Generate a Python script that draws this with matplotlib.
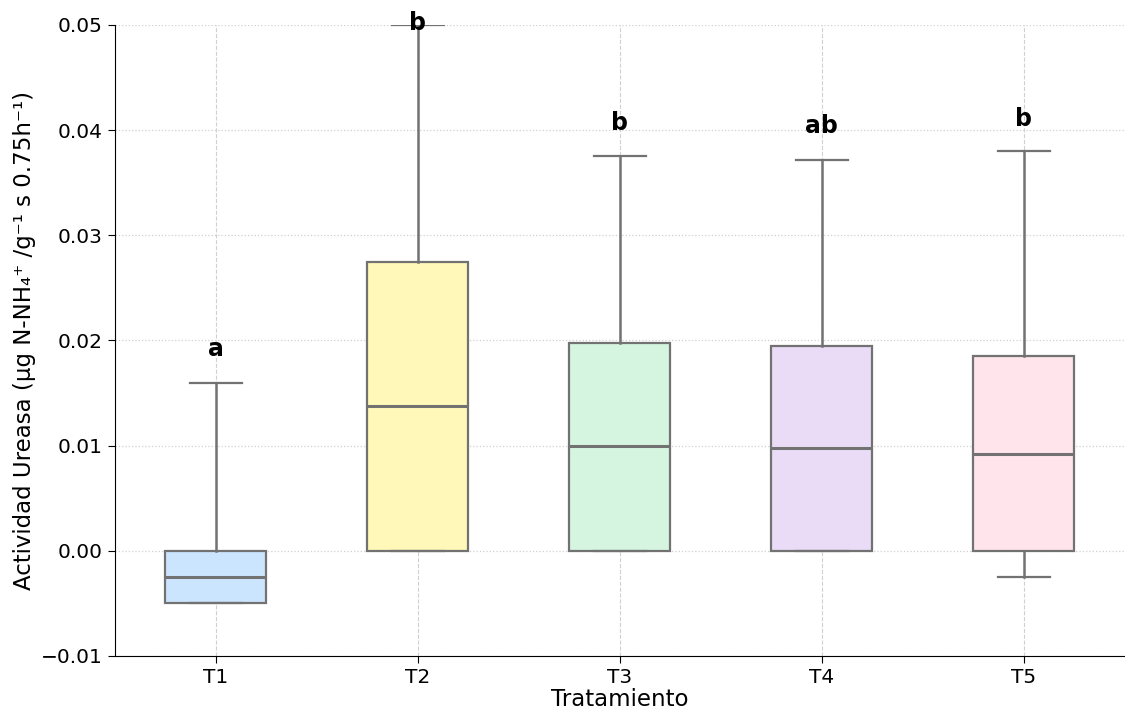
import numpy as np
import matplotlib
matplotlib.use('Agg')
import matplotlib.pyplot as plt

tratamientos = ['T1', 'T2', 'T3', 'T4', 'T5']
whislo = [-0.005, 0.0, 0.0, 0.0, -0.0025]
q1 = [-0.005, 0.0, 0.0, 0.0, 0.0]
medianas = [-0.0025, 0.0138, 0.0100, 0.0098, 0.0092]
q3 = [0.0, 0.0275, 0.0198, 0.0195, 0.0185]
whishi = [0.016, 0.050, 0.0375, 0.0372, 0.038]
letras = ['a', 'b', 'b', 'ab', 'b']
letras_y = [0.0192, 0.0502, 0.0407, 0.0404, 0.0411]
colores = ['#cce5ff', '#fff8b8', '#d6f5e0', '#eadcf7', '#ffe4ec']


def main():
    fig, ax = plt.subplots(figsize=(11.25, 7.13), dpi=100)
    fig.subplots_adjust(left=0.102, right=1.0, top=0.965, bottom=0.08)

    stats = []
    for i in range(len(tratamientos)):
        stats.append({'label': tratamientos[i], 'whislo': whislo[i], 'q1': q1[i],
                      'med': medianas[i], 'q3': q3[i], 'whishi': whishi[i], 'fliers': []})

    gris = '#727272'
    bp = ax.bxp(stats, positions=range(len(tratamientos)), widths=0.5,
                patch_artist=True, showfliers=False,
                boxprops=dict(edgecolor=gris, linewidth=1.6),
                medianprops=dict(color=gris, linewidth=2.2),
                whiskerprops=dict(color=gris, linewidth=1.8),
                capprops=dict(color=gris, linewidth=1.6), capwidths=0.26)
    for patch, c in zip(bp['boxes'], colores):
        patch.set_facecolor(c)
        patch.set_zorder(2)

    for i, (l, y) in enumerate(zip(letras, letras_y)):
        ax.text(i, y, l, ha='center', va='center', fontsize=17, fontweight='bold', zorder=5)

    ax.set_xlim(-0.5, 4.5)
    ax.set_ylim(-0.01, 0.05)
    ticks = np.arange(-0.01, 0.0501, 0.01)
    ax.set_yticks(ticks)
    ax.set_yticklabels([('%.2f' % v).replace('-', '\u2212') for v in ticks])
    ax.xaxis.grid(True, linestyle='--', color='#d0d0d0', linewidth=0.8)
    ax.yaxis.grid(True, linestyle=':', color='#d0d0d0', linewidth=0.9)
    ax.set_axisbelow(True)
    ax.spines['right'].set_color('none')
    ax.spines['top'].set_color('none')
    ax.tick_params(labelsize=14.5, length=5)
    ax.set_xlabel('Tratamiento', fontsize=16.5, labelpad=1)
    ax.set_ylabel('Actividad Ureasa (\u03bcg N-NH\u2084\u207a /g\u207b\u00b9 s 0.75h\u207b\u00b9)', fontsize=16.5)

    fig.savefig('out.png')


if __name__ == '__main__':
    main()
